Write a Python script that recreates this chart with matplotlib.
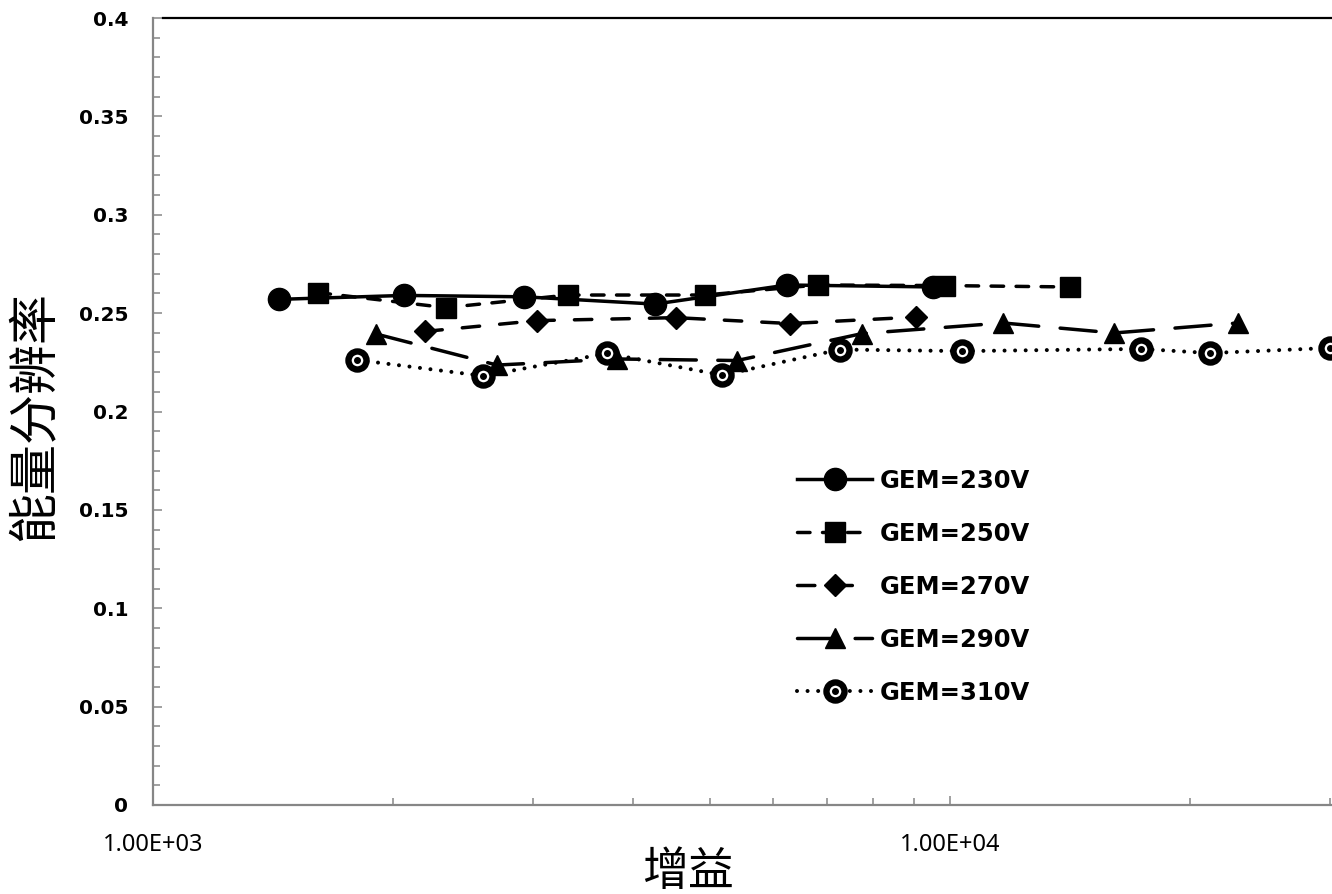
import matplotlib
matplotlib.use("Agg")
import matplotlib.pyplot as plt
from matplotlib.ticker import MultipleLocator, LogLocator, FuncFormatter, NullFormatter

plt.rcParams['font.family'] = ['DejaVu Sans']
plt.rcParams['lines.scale_dashes'] = False

# Gain vs energy resolution for each GEM voltage
gain_230 = [1440, 2065, 2921, 4265, 6246, 9521]
res_230 = [0.2570, 0.2590, 0.2583, 0.2546, 0.2643, 0.2633]

gain_250 = [1611, 2331, 3316, 4927, 6830, 9856, 14140]
res_250 = [0.2604, 0.2528, 0.2592, 0.2592, 0.2643, 0.2640, 0.2633]

gain_270 = [2194, 3033, 4532, 6299, 9065]
res_270 = [0.2407, 0.2462, 0.2477, 0.2447, 0.2480]

gain_290 = [1905, 2702, 3821, 5405, 7757, 11656, 16064, 22980]
res_290 = [0.2394, 0.2236, 0.2267, 0.2259, 0.2396, 0.2450, 0.2399, 0.2450]

gain_310 = [1803, 2595, 3712, 5176, 7278, 10354, 17360, 21200, 29990]
res_310 = [0.2262, 0.2181, 0.2295, 0.2185, 0.2315, 0.2307, 0.2318, 0.2297, 0.2323]

labels = ["GEM=230V", "GEM=250V", "GEM=270V", "GEM=290V", "GEM=310V"]

W, H = 1332, 894
fig = plt.figure(figsize=(W / 100, H / 100), dpi=100)
ax = fig.add_axes([153 / W, (H - 805) / H, (W - 153) / W, 787 / H])

lw = 2.5
h230, = ax.plot(gain_230, res_230, color='black', lw=lw, ls='-',
                marker='o', ms=16, mec='black', mfc='black')
h250, = ax.plot(gain_250, res_250, color='black', lw=lw, ls=(0, (9, 9)),
                dash_capstyle='round', marker='s', ms=14.5, mec='black', mfc='black')
h270, = ax.plot(gain_270, res_270, color='black', lw=lw, ls=(0, (12.5, 14.5)),
                dash_capstyle='round', marker='D', ms=11, mec='black', mfc='black')
h290, = ax.plot(gain_290, res_290, color='black', lw=lw, ls=(0, (26, 15.5)),
                dash_capstyle='round', marker='^', ms=15, mec='black', mfc='black')
h310, = ax.plot(gain_310, res_310, color='black', lw=2.9, ls=(0, (0.01, 7.6)),
                dash_capstyle='round', marker='o', ms=13, mew=4.6,
                mec='black', mfc='white')
d310, = ax.plot(gain_310, res_310, ls='none', marker='o', ms=4,
                mec='black', mfc='black')

xmax = 1000 * 10 ** ((W - 153) / 797)
ax.set_xscale('log')
ax.set_xlim(1000, xmax)
ax.set_ylim(0, 0.4)

ax.xaxis.set_major_locator(LogLocator(base=10, numticks=10))
ax.xaxis.set_minor_locator(LogLocator(base=10, subs=range(2, 10), numticks=20))
ax.xaxis.set_major_formatter(FuncFormatter(lambda v, p: f"{v:.2E}"))
ax.xaxis.set_minor_formatter(NullFormatter())
ax.yaxis.set_major_locator(MultipleLocator(0.05))
ax.yaxis.set_minor_locator(MultipleLocator(0.01))
ax.yaxis.set_major_formatter(FuncFormatter(lambda v, p: f"{v:g}"))

grey = '#868686'
ax.tick_params(which='both', direction='in', color=grey, width=1.1,
               top=False, right=False)
ax.tick_params(which='major', length=6.5)
ax.tick_params(which='minor', length=5)
ax.tick_params(axis='y', pad=18)
ax.tick_params(axis='x', pad=20)
for t in ax.get_yticklabels():
    t.set_fontsize(14.5)
    t.set_fontweight('bold')
for t in ax.get_xticklabels():
    t.set_fontsize(17)
    t.set_fontfamily(['Noto Sans', 'DejaVu Sans'])

for side in ('left', 'bottom'):
    ax.spines[side].set_color(grey)
    ax.spines[side].set_linewidth(1.6)
ax.spines['right'].set_visible(False)
ax.spines['top'].set_color('black')
ax.spines['top'].set_linewidth(1.6)
ax.spines['top'].set_bounds(1000 * 10 ** (10 / 797), xmax)

cjk = ['Noto Sans CJK SC', 'DejaVu Sans']
fig.text(34 / W, 1 - 416 / H, "能量分辨率", rotation=90, fontsize=36,
         family=cjk, ha='center', va='center')
fig.text(688 / W, 1 - 872 / H, "增益", fontsize=33,
         family=cjk, ha='center', va='center')

leg = ax.legend([h230, h250, h270, h290, (h310, d310)], labels,
                loc='upper left', bbox_to_anchor=(797 / W, 1 - 469 / H),
                bbox_transform=fig.transFigure, frameon=False, borderpad=0,
                borderaxespad=0, numpoints=1, handlelength=3.1,
                handletextpad=0.3, labelspacing=1.19,
                prop={'size': 17.5, 'weight': 'bold'})

fig.savefig("out.png", dpi=100)
